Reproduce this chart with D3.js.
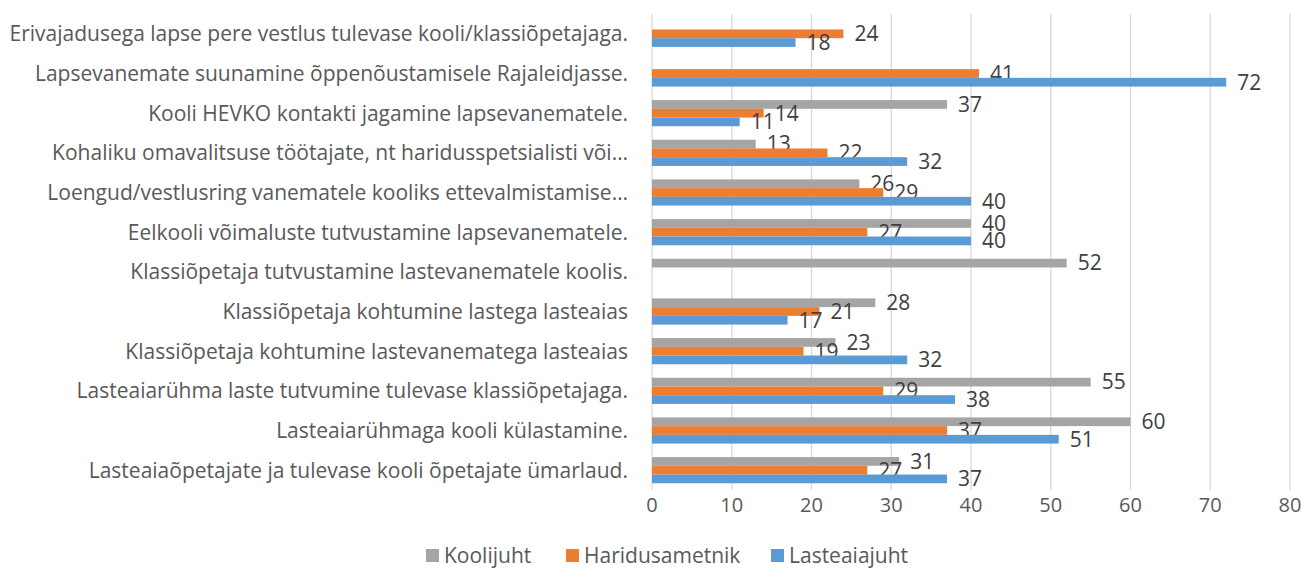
<!DOCTYPE html>
<html>
<head>
<meta charset="utf-8">
<script src="https://cdn.jsdelivr.net/npm/d3@7"></script>
<style>
  body { margin: 0; background: #fff; }
  svg { display: block; font-family: "Open Sans", "Noto Sans", sans-serif; }
</style>
</head>
<body>
<div id="chart"></div>
<script>
// Categories, top to bottom as shown
const categories = [
  'Erivajadusega lapse pere vestlus tulevase kooli/klassiõpetajaga.',
  'Lapsevanemate suunamine õppenõustamisele Rajaleidjasse.',
  'Kooli HEVKO kontakti jagamine lapsevanematele.',
  'Kohaliku omavalitsuse töötajate, nt haridusspetsialisti või…',
  'Loengud/vestlusring vanematele kooliks ettevalmistamise…',
  'Eelkooli võimaluste tutvustamine lapsevanematele.',
  'Klassiõpetaja tutvustamine lastevanematele koolis.',
  'Klassiõpetaja kohtumine lastega lasteaias',
  'Klassiõpetaja kohtumine lastevanematega lasteaias',
  'Lasteaiarühma laste tutvumine tulevase klassiõpetajaga.',
  'Lasteaiarühmaga  kooli külastamine.',
  'Lasteaiaõpetajate ja tulevase kooli õpetajate ümarlaud.'
];

const seriesNames = ['Koolijuht', 'Haridusametnik', 'Lasteaiajuht'];
const seriesColors = ['#a5a5a5', '#ed7d31', '#5b9bd5'];

// null = no bar
const koolijuht      = [null, null, 37, 13, 26, 40, 52, 28, 23, 55, 60, 31];
const haridusametnik = [24,   41,   14, 22, 29, 27, null, 21, 19, 29, 37, 27];
const lasteaiajuht   = [18,   72,   11, 32, 40, 40, null, 17, 32, 38, 51, 37];

const xTicks = [0, 10, 20, 30, 40, 50, 60, 70, 80];

const seriesValues = [koolijuht, haridusametnik, lasteaiajuht];

const W = 1301, H = 570;
const plot = { left: 652, right: 1290, top: 14, bottom: 490 };

const svg = d3.select('#chart').append('svg')
  .attr('width', W)
  .attr('height', H);

const x = d3.scaleLinear().domain([0, 80]).range([plot.left, plot.right]);
const y = d3.scaleBand().domain(categories).range([plot.top, plot.bottom]).paddingInner(0).paddingOuter(0);

// bars in each group take ~2/3 of the band
const barH = y.bandwidth() * 0.66 / 3;
const inner = d3.scaleBand().domain(seriesNames).range([0, barH * 3]);

// gridlines
svg.append('g')
  .selectAll('line')
  .data(xTicks)
  .enter()
  .append('line')
  .attr('x1', d => x(d))
  .attr('x2', d => x(d))
  .attr('y1', plot.top)
  .attr('y2', plot.bottom)
  .attr('stroke', '#d9d9d9')
  .attr('stroke-width', 1.3);

// tick labels
svg.append('g')
  .selectAll('text')
  .data(xTicks)
  .enter()
  .append('text')
  .attr('x', d => x(d))
  .attr('y', 512)
  .attr('text-anchor', 'middle')
  .attr('fill', '#595959')
  .style('font-size', '20px')
  .text(d => d);

// category labels
svg.append('g')
  .selectAll('text')
  .data(categories)
  .enter()
  .append('text')
  .attr('x', 628)
  .attr('y', d => y(d) + y.bandwidth() / 2)
  .attr('dy', '0.35em')
  .attr('text-anchor', 'end')
  .attr('fill', '#595959')
  .style('font-size', '21px')
  .text(d => d);

// bars + value labels
seriesNames.forEach((name, si) => {
  const data = categories.map((c, i) => ({ c, v: seriesValues[si][i] })).filter(d => d.v !== null);
  const groupTop = d => y(d.c) + (y.bandwidth() - barH * 3) / 2 + inner(name);

  svg.append('g')
    .selectAll('rect')
    .data(data)
    .enter()
    .append('rect')
    .attr('x', x(0))
    .attr('y', d => groupTop(d))
    .attr('width', d => x(d.v) - x(0))
    .attr('height', inner.bandwidth())
    .attr('fill', seriesColors[si]);

  svg.append('g')
    .selectAll('text')
    .data(data)
    .enter()
    .append('text')
    .attr('x', d => x(d.v) + 11)
    .attr('y', d => groupTop(d) + inner.bandwidth() / 2)
    .attr('dy', '0.35em')
    .attr('fill', '#404040')
    .style('font-size', '21px')
    .text(d => d.v);
});

// legend
const legendItems = [
  { name: 'Koolijuht', x: 426 },
  { name: 'Haridusametnik', x: 566 },
  { name: 'Lasteaiajuht', x: 771 }
];
const legend = svg.append('g');
legendItems.forEach((item, i) => {
  legend.append('rect')
    .attr('x', item.x)
    .attr('y', 549)
    .attr('width', 13)
    .attr('height', 13)
    .attr('fill', seriesColors[i]);
  legend.append('text')
    .attr('x', item.x + 18)
    .attr('y', 563)
    .attr('fill', '#595959')
    .style('font-size', '21px')
    .text(item.name);
});
</script>
</body>
</html>
